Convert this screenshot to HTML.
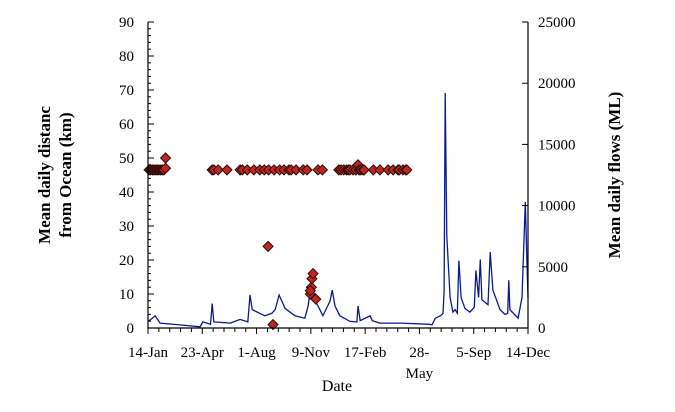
<!DOCTYPE html>
<html><head><meta charset="utf-8"><style>
body{margin:0;background:#fff}
svg text{font-family:"Liberation Serif",serif;fill:#000}
</style></head><body>
<svg id="chart" width="675" height="407" viewBox="0 0 675 407" xmlns="http://www.w3.org/2000/svg">
<g id="grid"></g>
<g id="flow"></g>
<g id="marks"></g>
<g id="axes"></g>
</svg>
<script>
const xTickLabels=["14-Jan","23-Apr","1-Aug","9-Nov","17-Feb","28-May","5-Sep","14-Dec"];
const leftTicks=[0,10,20,30,40,50,60,70,80,90];
const rightTicks=[0,5000,10000,15000,20000,25000];
const flowDays=[0,4,13,22,58,95,100,114,117,120,150,168,182,186,190,213,226,232,239,250,268,286,292,297,303,310,319,332,336,341,350,368,378,381,383,387,405,409,423,460,514,518,524,533,538,540,542,545,551,556,560,564,567,571,578,587,595,598,603,606,609,620,624,629,642,651,656,658,660,675,682,688,691,693];
const flowML=[600,650,1000,400,250,100,500,300,2000,500,400,700,500,2700,1500,1000,1200,1500,2700,1600,1000,800,1800,3500,2300,1800,1000,2200,3100,1800,1000,550,500,500,1800,600,1000,600,400,400,300,250,800,1000,1200,3000,19200,7500,2500,1300,1500,1200,5500,2500,1600,1300,1700,4700,2500,5600,2300,1900,6200,3100,1500,1100,1200,3900,1500,800,2500,10300,5500,2500];
const markDays=[2,5,8,11,14,17,20,23,26,29,32,32,117,120,128,144,168,172,181,193,204,212,220,230,240,248,257,261,270,283,290,310,318,348,352,357,362,365,368,374,379,383,385,388,392,394,411,423,438,447,456,458,465,470,472,219,228,296,298,299,301,306,296];
const markKm=[46.5,46.5,46.5,46.5,46.5,46.5,46.5,46.5,46.5,46.5,50,47,46.5,46.5,46.5,46.5,46.5,46.5,46.5,46.5,46.5,46.5,46.5,46.5,46.5,46.5,46.5,46.5,46.5,46.5,46.5,46.5,46.5,46.5,46.5,46.5,46.5,46.5,46.5,46.5,46.5,48,46.5,46.5,46.5,46.5,46.5,46.5,46.5,46.5,46.5,46.5,46.5,46.5,46.5,24,1,10,12,14.5,16,8.5,11];
const X0=148,X1=528,Y0=328,Y1=22,DMAX=693;
const xs=d=>X0+(d/DMAX)*(X1-X0);
const yL=v=>Y0-(v/90)*(Y0-Y1);
const yR=v=>Y0-(v/25000)*(Y0-Y1);
const NS="http://www.w3.org/2000/svg";
function mk(tag,parent,attrs){const e=document.createElementNS(NS,tag);for(const k in attrs)e.setAttribute(k,attrs[k]);parent.appendChild(e);return e;}
const axes=document.getElementById('axes');
let p=flowDays.map((d,i)=>(i?'L':'M')+xs(d).toFixed(1)+','+yR(flowML[i]).toFixed(1)).join('');
const fl=mk('path',document.getElementById('flow'),{d:p,fill:'none',stroke:'#0a1a8c','stroke-width':1.3});


const mg=document.getElementById('marks');
markDays.forEach((d,i)=>{const x=xs(d),y=yL(markKm[i]);
const m=mk('path',mg,{d:`M${x},${y-5}L${x+5},${y}L${x},${y+5}L${x-5},${y}Z`,fill:'#c0261c',stroke:'#2a0a0a','stroke-width':1});

});
let a=mk('path',axes,{d:`M${X0},${Y1}V${Y0}H${X1}V${Y1}`,fill:'none',stroke:'#000','stroke-width':1.2});


leftTicks.forEach(v=>{const y=yL(v);mk('line',axes,{x1:X0,x2:X0+6,y1:y,y2:y,stroke:'#000'});
const t=mk('text',axes,{x:134,y:y+5,'text-anchor':'end','font-size':15});t.textContent=v;


if(v<90){for(let k=1;k<5;k++){const yy=yL(v+k*2);mk('line',axes,{x1:X0,x2:X0+3,y1:yy,y2:yy,stroke:'#000'});}}});
rightTicks.forEach(v=>{const y=yR(v);mk('line',axes,{x1:X1-6,x2:X1,y1:y,y2:y,stroke:'#000'});
const t=mk('text',axes,{x:538,y:y+5,'font-size':15});t.textContent=v;

});
xTickLabels.forEach((l,i)=>{const x=X0+i*(X1-X0)/7;mk('line',axes,{x1:x,x2:x,y1:Y0,y2:Y0+6,stroke:'#000'});
for(let k=1;k<5;k++){const xx=x+k*(X1-X0)/35;if(i<7)mk('line',axes,{x1:xx,x2:xx,y1:Y0,y2:Y0+4,stroke:'#000'});}
if(l==="28-May"){const t=mk('text',axes,{x:x,y:357,'text-anchor':'middle','font-size':15});t.textContent="28-";


const t2=mk('text',axes,{x:x,y:378,'text-anchor':'middle','font-size':15});t2.textContent="May";

}
else{const t=mk('text',axes,{x:x,y:357,'text-anchor':'middle','font-size':15});t.textContent=l;

}});
</script>
<svg width="675" height="407" style="position:absolute;left:0;top:0" xmlns="http://www.w3.org/2000/svg">
<text x="337" y="391" text-anchor="middle" font-size="16" font-family="Liberation Serif, serif">Date</text>
<text transform="translate(50,175) rotate(-90)" text-anchor="middle" font-size="17" font-weight="bold" font-family="Liberation Serif, serif">Mean daily distanc</text>
<text transform="translate(71,175) rotate(-90)" text-anchor="middle" font-size="17" font-weight="bold" font-family="Liberation Serif, serif">from Ocean (km)</text>
<text transform="translate(620,175) rotate(-90)" text-anchor="middle" font-size="17" font-weight="bold" font-family="Liberation Serif, serif">Mean daily flows (ML)</text>
</svg>
</body></html>
